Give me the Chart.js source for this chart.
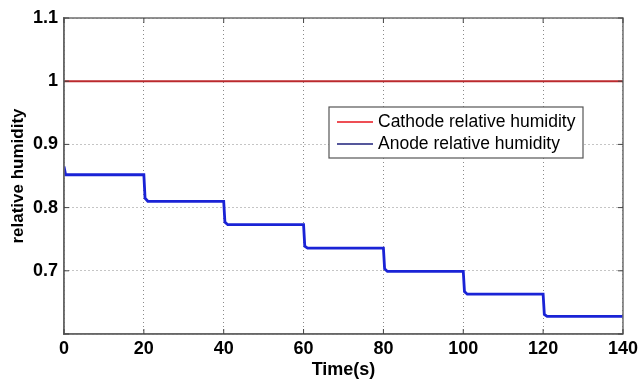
<!DOCTYPE html>
<html>
<head>
<meta charset="utf-8">
<script src="https://cdn.jsdelivr.net/npm/chart.js@4"></script>
<style>
  html, body { margin: 0; padding: 0; background: #fff; }
  #wrap { width: 642px; height: 382px; }
</style>
</head>
<body>
<div id="wrap"><canvas id="myChart" width="642" height="382"></canvas></div>
<script>
// data
var seriesNames = ['Cathode relative humidity', 'Anode relative humidity'];
var cathodeTime = [0, 140];
var cathodeRH = [1, 1];
var anodeTime = [0, 0.4, 20, 20.3, 21, 40, 40.3, 41, 60, 60.3, 61, 80, 80.3, 81, 100, 100.3, 101, 120, 120.3, 121, 140];
var anodeRH = [0.865, 0.852, 0.852, 0.815, 0.810, 0.810, 0.777, 0.773, 0.773, 0.739, 0.736, 0.736, 0.703, 0.699, 0.699, 0.667, 0.663, 0.663, 0.631, 0.628, 0.628];
var xTicks = [0, 20, 40, 60, 80, 100, 120, 140];
var yTicks = [0.6, 0.7, 0.8, 0.9, 1, 1.1];

function pts(xs, ys) {
    return xs.map(function (x, i) { return { x: x, y: ys[i] }; });
}

// box round the plot + inward ticks + legend inside the axes, matlab style
var boxLegend = {
    id: 'boxLegend',
    afterDraw: function (chart) {
        var c = chart.ctx, a = chart.chartArea;
        var xs = chart.scales.x, ys = chart.scales.y;
        c.save();
        c.strokeStyle = '#6e6e6e';
        c.lineWidth = 1.5;
        c.strokeRect(a.left, a.top, a.right - a.left, a.bottom - a.top);
        c.lineWidth = 1;
        c.strokeStyle = '#444';
        xTicks.forEach(function (v) {
            var px = xs.getPixelForValue(v);
            c.beginPath(); c.moveTo(px, a.bottom); c.lineTo(px, a.bottom - 5); c.stroke();
            c.beginPath(); c.moveTo(px, a.top); c.lineTo(px, a.top + 5); c.stroke();
        });
        yTicks.forEach(function (v) {
            var py = ys.getPixelForValue(v);
            c.beginPath(); c.moveTo(a.left, py); c.lineTo(a.left + 5, py); c.stroke();
            c.beginPath(); c.moveTo(a.right, py); c.lineTo(a.right - 5, py); c.stroke();
        });

        // legend
        var lx = 329, ly = 107, lw = 254, lh = 51;
        c.fillStyle = '#fff';
        c.fillRect(lx, ly, lw, lh);
        c.strokeStyle = '#555';
        c.lineWidth = 1.2;
        c.strokeRect(lx, ly, lw, lh);
        var sampleCols = ['#e8141c', '#1c1f7a'];
        c.font = '17.5px "Liberation Sans", Arial, sans-serif';
        c.textBaseline = 'middle';
        c.fillStyle = '#000';
        seriesNames.forEach(function (name, i) {
            var yy = ly + 15 + i * 22;
            c.strokeStyle = sampleCols[i];
            c.lineWidth = 1.5;
            c.beginPath(); c.moveTo(lx + 8, yy); c.lineTo(lx + 44, yy); c.stroke();
            c.fillText(name, lx + 49, yy);
        });
        c.restore();
    }
};

var fam = '"Liberation Sans", Arial, sans-serif';
var tickFont = { family: fam, size: 18, weight: 'bold' };

var ctx = document.getElementById('myChart').getContext('2d');
var chart = new Chart(ctx, {
    type: 'line',
    data: {
        datasets: [{
            label: seriesNames[0],
            data: pts(cathodeTime, cathodeRH),
            borderColor: '#bb2a2e',
            borderWidth: 2,
            pointRadius: 0,
            tension: 0
        }, {
            label: seriesNames[1],
            data: pts(anodeTime, anodeRH),
            borderColor: '#1a23d6',
            borderWidth: 2.8,
            pointRadius: 0,
            tension: 0
        }]
    },
    options: {
        responsive: false,
        animation: false,
        layout: { padding: { top: 18, right: 18, left: 8, bottom: 0 } },
        plugins: {
            legend: { display: false },
            tooltip: { enabled: false }
        },
        scales: {
            x: {
                type: 'linear',
                min: 0, max: 140,
                afterBuildTicks: function (s) { s.ticks = xTicks.map(function (v) { return { value: v }; }); },
                ticks: { color: '#000', font: tickFont, padding: 4, maxRotation: 0 },
                grid: { color: '#8a8a8a', lineWidth: 1, drawTicks: false },
                border: { display: true, color: '#555', width: 1.5, dash: [1, 3] },
                title: { display: true, text: 'Time(s)', color: '#000',
                         font: { family: fam, size: 18, weight: 'bold' },
                         padding: { top: 0, bottom: 1 } },
                afterFit: function (s) { s.height = 48; }
            },
            y: {
                min: 0.6, max: 1.1,
                afterBuildTicks: function (s) { s.ticks = yTicks.map(function (v) { return { value: v }; }); },
                ticks: {
                    color: '#000', font: tickFont, padding: 6,
                    callback: function (v) { return v < 0.65 ? '' : String(+v.toFixed(1)); }
                },
                grid: { color: '#8a8a8a', lineWidth: 1, drawTicks: false },
                border: { display: true, color: '#555', width: 1.5, dash: [1, 3] },
                title: { display: true, text: 'relative humidity', color: '#000',
                         font: { family: fam, size: 17, weight: 'bold' },
                         padding: { top: 0, bottom: 2 } },
                afterFit: function (s) { s.width = 56; }
            }
        }
    },
    plugins: [boxLegend]
});
</script>
</body>
</html>
